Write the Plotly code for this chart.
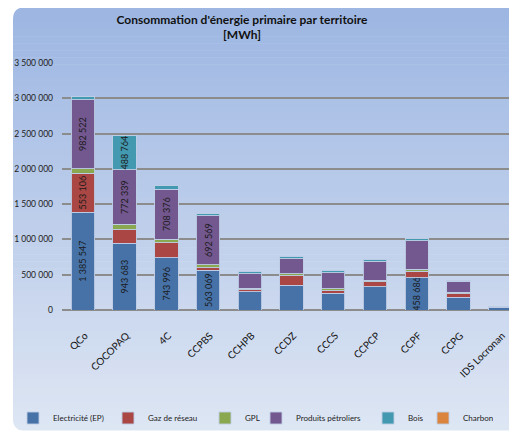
import plotly.graph_objects as go

territoires = ["QCo", "COCOPAQ", "4C", "CCPBS", "CCHPB", "CCDZ", "CCCS",
               "CCPCP", "CCPF", "CCPG", "IDS Locronan"]

electricite = [1385547, 943683, 743996, 563069, 260000, 350000, 237000, 326000, 458686, 184000, 38000]
gaz_reseau = [553106, 194000, 208000, 38000, 24000, 137000, 38000, 75000, 94000, 47000, 5000]
gpl = [61000, 75000, 52000, 42000, 24000, 24000, 24000, 20000, 28000, 24000, 2000]
produits_petroliers = [982522, 772339, 708376, 692569, 203000, 217000, 227000, 273000, 400000, 152000, 8000]
bois = [47000, 488764, 47000, 38000, 28000, 24000, 28000, 28000, 28000, 8000, 1000]
charbon = [0, 0, 0, 0, 0, 0, 0, 0, 0, 0, 0]

y_ticks = [0, 500000, 1000000, 1500000, 2000000, 2500000, 3000000, 3500000]

W, H = 509, 432
ML, MR, MT, MB = 62, 0, 63, 432 - 310


def fmt(v):
    return f"{v:,}".replace(",", " ")


def labels(values, seuil=450000):
    # on n'affiche l'étiquette que sur les gros segments, comme dans Excel
    return [fmt(v) if v > seuil else "" for v in values]


# (nom, valeurs, couleur, largeur de l'entrée de légende)
series = [
    ("Electricité (EP)", electricite, "#4672a8", 50),
    ("Gaz de réseau", gaz_reseau, "#aa4744", 52),
    ("GPL", gpl, "#8aa84f", 6),
    ("Produits pétroliers", produits_petroliers, "#73578f", 67),
    ("Bois", bois, "#4299b0", 10),
    ("Charbon", charbon, "#db843d", 25),
]

fig = go.Figure()
for nom, vals, couleur, lw in series:
    fig.add_trace(go.Bar(
        name=nom,
        x=territoires,
        y=vals,
        text=labels(vals),
        textposition="inside",
        insidetextanchor="middle",
        textangle=-90,
        textfont=dict(size=9, color="#1a1a1a"),
        marker=dict(color=couleur, line=dict(color="rgba(190,205,228,0.9)", width=1)),
        legendwidth=lw,
    ))


# pixels de la capture -> coordonnées paper
def px(x):
    return (x - ML) / (W - ML - MR)


def py(y):
    return (H - MB - y) / (H - MT - MB)


# fond en dégradé (bandes horizontales)
top_c = (156, 182, 226)
bot_c = (222, 230, 243)
y0, y1 = 8, 430
n = 60
shapes = []
for i in range(n):
    ya = y0 + (y1 - y0) * i / n
    yb = y0 + (y1 - y0) * (i + 1) / n
    t = (i + 0.5) / n
    c = tuple(round(a + (b - a) * t) for a, b in zip(top_c, bot_c))
    shapes.append(dict(
        type="rect", xref="paper", yref="paper", layer="below",
        x0=px(13), x1=px(520), y0=py(yb + 0.6), y1=py(ya),
        fillcolor=f"rgb{c}", line=dict(width=0),
    ))

# coins arrondis à gauche
r = 11
shapes.append(dict(
    type="path", xref="paper", yref="paper", layer="below",
    path=(f"M {px(12)},{py(7)} L {px(13 + r)},{py(7)} "
          f"Q {px(13)},{py(8)} {px(13)},{py(8 + r)} Z"),
    fillcolor="white", line=dict(width=0),
))
shapes.append(dict(
    type="path", xref="paper", yref="paper", layer="below",
    path=(f"M {px(12)},{py(431)} L {px(13 + r)},{py(431)} "
          f"Q {px(13)},{py(430)} {px(13)},{py(430 - r)} Z"),
    fillcolor="white", line=dict(width=0),
))

fig.update_layout(
    width=W, height=H,
    barmode="stack",
    bargap=0.44,
    separators=", ",
    paper_bgcolor="white",
    plot_bgcolor="rgba(0,0,0,0)",
    margin=dict(l=ML, r=MR, t=MT, b=MB, autoexpand=False),
    font=dict(family="Lato, Open Sans, sans-serif", color="#222"),
    uniformtext=dict(minsize=9, mode="show"),
    title=dict(
        text="<b>Consommation d'énergie primaire par territoire<br>[MWh]</b>",
        font=dict(size=12, color="#111"),
        x=px(242), xanchor="center", xref="paper",
        y=1 - 23.5 / H, yanchor="middle",
    ),
    xaxis=dict(
        range=[-0.5, 10.21],
        tickangle=-45,
        tickfont=dict(size=10, color="#111"),
        showline=False,
        showgrid=False,
        ticks="",
        ticklabelshift=2,
        ticklabelstandoff=17,
    ),
    yaxis=dict(
        range=[0, 3500000],
        tickvals=y_ticks,
        tickformat=",d",
        tickfont=dict(size=8.5, color="#222"),
        showgrid=True,
        gridcolor="#8c8c8c",
        gridwidth=1.5,
        zeroline=True,
        zerolinecolor="#8c8c8c",
        zerolinewidth=1.5,
        ticks="",
        ticklabelstandoff=8,
    ),
    legend=dict(
        orientation="h",
        xref="paper", yref="paper",
        x=px(13), xanchor="left",
        y=py(418), yanchor="middle",
        font=dict(size=8, color="#222"),
        itemwidth=30,
        bgcolor="rgba(0,0,0,0)",
        traceorder="normal",
    ),
    shapes=shapes,
    showlegend=True,
)

# pas de marge autour de la figure dans la page
fig.write_html(
    "out.html",
    config={"displayModeBar": False},
    post_script="document.body.style.margin='0px';document.body.style.overflow='hidden';",
)
